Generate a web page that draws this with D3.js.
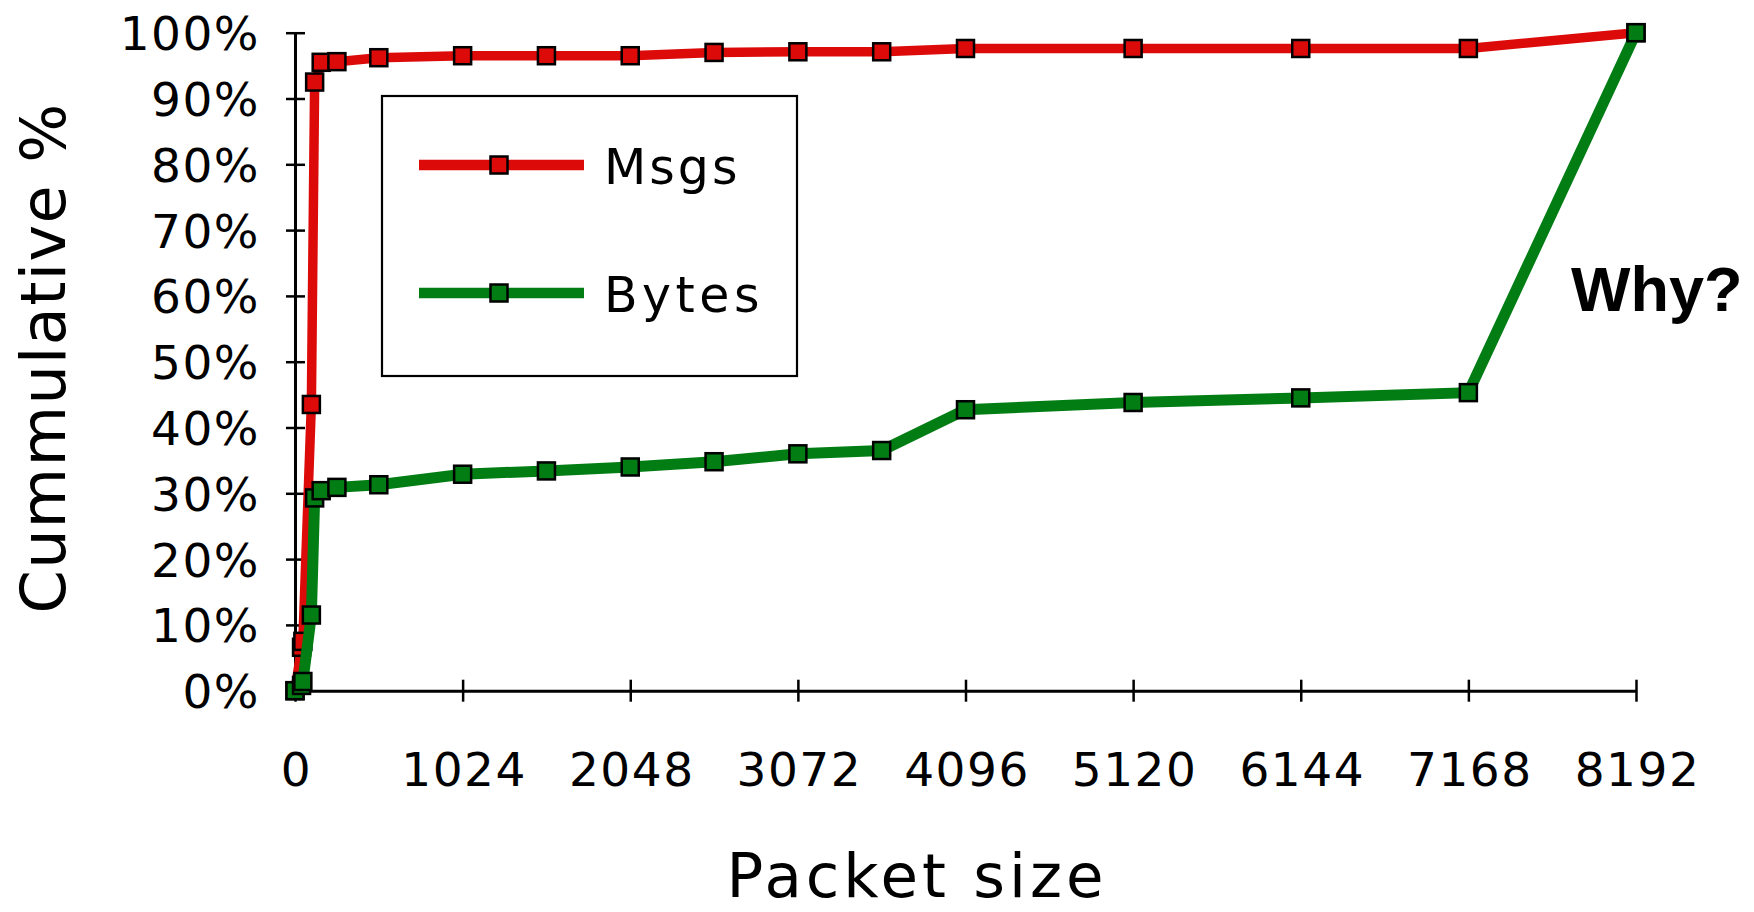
<!DOCTYPE html>
<html>
<head>
<meta charset="utf-8">
<script src="https://cdn.jsdelivr.net/npm/d3@7"></script>
<style>
  html, body { margin: 0; padding: 0; background: #fff; }
  svg { display: block; }
  text { font-family: "DejaVu Sans", Verdana, sans-serif; fill: #000; }
</style>
</head>
<body>
<svg id="chart" width="1754" height="912"></svg>
<script>
// Cumulative distribution of packet sizes: share of messages and of bytes
const packetSizes = [0, 40, 48, 100, 120, 160, 256, 512, 1024, 1536, 2048, 2560, 3072, 3584, 4096, 5120, 6144, 7168, 8192];
const msgsPct     = [0, 6.6, 7.5, 43.5, 92.5, 95.5, 95.6, 96.2, 96.5, 96.5, 96.5, 97.0, 97.1, 97.1, 97.6, 97.6, 97.6, 97.6, 100];
const bytesPct    = [0, 0.8, 1.4, 11.5, 29.3, 30.4, 30.9, 31.3, 32.9, 33.4, 34.0, 34.8, 36.0, 36.5, 42.7, 43.8, 44.5, 45.3, 100];

const xTickValues = [0, 1024, 2048, 3072, 4096, 5120, 6144, 7168, 8192];
const yTickValues = [0, 10, 20, 30, 40, 50, 60, 70, 80, 90, 100];

const seriesNames  = ["Msgs", "Bytes"];
const seriesColors = ["#dd0a0a", "#027d14"];

const svg = d3.select("#chart");

const x = d3.scaleLinear().domain([0, 8192]).range([295, 1636]);
const y = d3.scaleLinear().domain([0, 100]).range([690.7, 32.7]);

const tickFont = '"DejaVu Sans", Verdana, sans-serif';

// X axis
const xAxis = svg.append("g")
  .attr("transform", `translate(0,${y(0)})`)
  .call(d3.axisBottom(x).tickValues(xTickValues).tickSize(11).tickSizeOuter(0).tickFormat(d3.format("d")));
xAxis.select(".domain").attr("stroke", "#000").attr("stroke-width", 3);
xAxis.selectAll(".tick line").attr("stroke", "#000").attr("stroke-width", 2.5).attr("y1", -11).attr("y2", 11);
xAxis.selectAll(".tick text")
  .attr("y", 95).attr("dy", null)
  .attr("dx", 1)
  .style("font-family", tickFont)
  .style("font-size", "47px")
  .style("letter-spacing", "1.5px")
  .attr("fill", "#000");

// Y axis
const yAxis = svg.append("g")
  .attr("transform", `translate(${x(0)},0)`)
  .call(d3.axisLeft(y).tickValues(yTickValues).tickSize(9).tickSizeOuter(0).tickFormat(d => d + "%"));
yAxis.select(".domain").attr("stroke", "#000").attr("stroke-width", 3);
yAxis.selectAll(".tick line").attr("stroke", "#000").attr("stroke-width", 2.5).attr("x1", 10).attr("x2", -9);
yAxis.selectAll(".tick text")
  .attr("x", -35).attr("dy", "0.36em")
  .style("font-family", tickFont)
  .style("font-size", "47px")
  .style("letter-spacing", "1.5px")
  .attr("fill", "#000");

// Series lines and square markers
const seriesData = [msgsPct, bytesPct];
const lineWidths = [9.5, 11];
const line = d3.line().x(d => x(d[0])).y(d => y(d[1]));
const markerSize = 17;

seriesData.forEach((vals, i) => {
  const pts = packetSizes.map((p, j) => [p, vals[j]]);
  const g = svg.append("g").attr("class", "series-" + seriesNames[i]);
  g.append("path")
    .datum(pts)
    .attr("d", line)
    .attr("fill", "none")
    .attr("stroke", seriesColors[i])
    .attr("stroke-width", lineWidths[i])
    .attr("stroke-linejoin", "miter");
  g.selectAll("rect")
    .data(pts)
    .join("rect")
    .attr("x", d => x(d[0]) - markerSize / 2)
    .attr("y", d => y(d[1]) - markerSize / 2)
    .attr("width", markerSize)
    .attr("height", markerSize)
    .attr("fill", seriesColors[i])
    .attr("stroke", "#000")
    .attr("stroke-width", 2.5);
});

// Legend
const legend = svg.append("g").attr("class", "legend");
legend.append("rect")
  .attr("x", 382).attr("y", 96).attr("width", 415).attr("height", 280)
  .attr("fill", "#fff").attr("stroke", "#000").attr("stroke-width", 2.2);
const legendRows = [165, 293];
seriesNames.forEach((name, i) => {
  const ly = legendRows[i];
  legend.append("line")
    .attr("x1", 419).attr("x2", 584).attr("y1", ly).attr("y2", ly)
    .attr("stroke", seriesColors[i]).attr("stroke-width", 10.5);
  legend.append("rect")
    .attr("x", 499 - markerSize / 2).attr("y", ly - markerSize / 2)
    .attr("width", markerSize).attr("height", markerSize)
    .attr("fill", seriesColors[i]).attr("stroke", "#000").attr("stroke-width", 2.5);
  legend.append("text")
    .attr("x", 604).attr("y", ly + 19)
    .style("font-size", "49px")
    .style("letter-spacing", i === 0 ? "3px" : "4.5px")
    .text(name);
});

// Axis titles
svg.append("text")
  .attr("x", 917).attr("y", 897)
  .attr("text-anchor", "middle")
  .style("font-size", "61px")
  .style("letter-spacing", "4px")
  .text("Packet size");

svg.append("text")
  .attr("transform", "translate(65,358) rotate(-90)")
  .attr("text-anchor", "middle")
  .style("font-size", "62px")
  .style("letter-spacing", "1.4px")
  .text("Cummulative %");

// Annotation on the jump at the largest size
svg.append("text")
  .attr("x", 1571).attr("y", 311)
  .style("font-family", '"Liberation Sans", Arial, sans-serif')
  .style("font-weight", "bold")
  .style("font-size", "63px")
  .text("Why?");
</script>
</body>
</html>
